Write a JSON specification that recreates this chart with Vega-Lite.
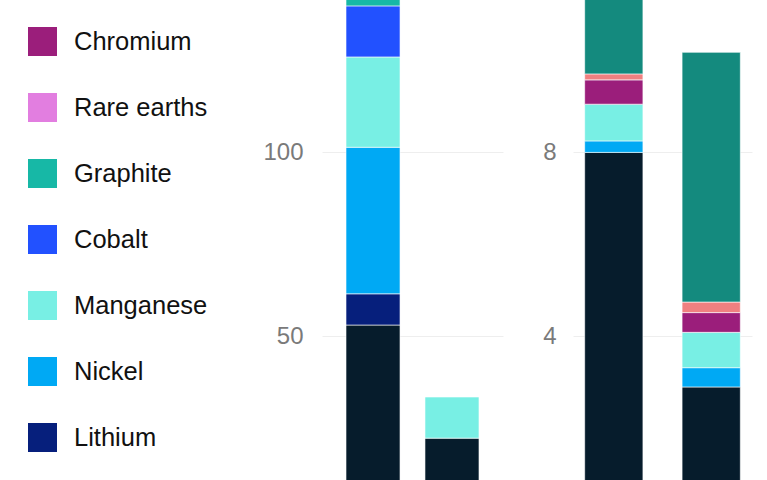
{
  "$schema": "https://vega.github.io/schema/vega-lite/v6.json",
  "background": "white",
  "padding": {"left": 1, "top": 0, "right": 14, "bottom": 0},
  "autosize": {"type": "pad"},
  "config": {
    "view": {"stroke": null},
    "font": "Liberation Sans",
    "concat": {"spacing": 39},
    "axis": {
      "domain": false,
      "ticks": false,
      "tickSize": 0,
      "grid": true,
      "gridColor": "#eeeeee",
      "gridWidth": 1,
      "labelFont": "Liberation Sans",
      "labelFontSize": 24,
      "labelColor": "#7a7a7a",
      "title": null
    },
    "legend": {
      "orient": "left",
      "title": null,
      "symbolType": "square",
      "symbolSize": 841,
      "symbolStrokeWidth": 0,
      "symbolOpacity": 1,
      "labelFont": "Liberation Sans",
      "labelFontSize": 25.5,
      "labelColor": "#111111",
      "labelOffset": 17,
      "rowPadding": 37,
      "padding": 27,
      "offset": 27,
      "labelLimit": 300
    }
  },
  "data": {
    "values": [
      {"group": "Cars", "item": "Electric car", "mineral": "Copper", "value": 53.0},
      {"group": "Cars", "item": "Electric car", "mineral": "Lithium", "value": 8.5},
      {"group": "Cars", "item": "Electric car", "mineral": "Nickel", "value": 39.9},
      {"group": "Cars", "item": "Electric car", "mineral": "Manganese", "value": 24.6},
      {"group": "Cars", "item": "Electric car", "mineral": "Cobalt", "value": 13.9},
      {"group": "Cars", "item": "Electric car", "mineral": "Graphite", "value": 66.3},
      {"group": "Cars", "item": "Electric car", "mineral": "Rare earths", "value": 0.5},
      {"group": "Cars", "item": "Conventional car", "mineral": "Copper", "value": 22.2},
      {"group": "Cars", "item": "Conventional car", "mineral": "Manganese", "value": 11.2},
      {"group": "Wind", "item": "Offshore wind", "mineral": "Copper", "value": 8.0},
      {"group": "Wind", "item": "Offshore wind", "mineral": "Nickel", "value": 0.25},
      {"group": "Wind", "item": "Offshore wind", "mineral": "Manganese", "value": 0.8},
      {"group": "Wind", "item": "Offshore wind", "mineral": "Chromium", "value": 0.53},
      {"group": "Wind", "item": "Offshore wind", "mineral": "Molybdenum", "value": 0.13},
      {"group": "Wind", "item": "Offshore wind", "mineral": "Zinc", "value": 5.5},
      {"group": "Wind", "item": "Onshore wind", "mineral": "Copper", "value": 2.89},
      {"group": "Wind", "item": "Onshore wind", "mineral": "Nickel", "value": 0.42},
      {"group": "Wind", "item": "Onshore wind", "mineral": "Manganese", "value": 0.77},
      {"group": "Wind", "item": "Onshore wind", "mineral": "Chromium", "value": 0.43},
      {"group": "Wind", "item": "Onshore wind", "mineral": "Molybdenum", "value": 0.23},
      {"group": "Wind", "item": "Onshore wind", "mineral": "Zinc", "value": 5.44}
    ]
  },
  "transform": [
    {"calculate": "indexof(['Copper','Lithium','Nickel','Manganese','Cobalt','Graphite','Rare earths','Chromium','Molybdenum','Zinc'], datum.mineral)", "as": "stackOrder"}
  ],
  "hconcat": [
    {
      "width": 181,
      "height": 480,
      "transform": [{"filter": "datum.group === 'Cars'"}],
      "mark": {"type": "bar", "clip": true, "stroke": "white", "strokeWidth": 0.6},
      "encoding": {
        "x": {
          "field": "item",
          "type": "nominal",
          "sort": ["Electric car", "Conventional car"],
          "axis": null,
          "scale": {"paddingInner": 0.316, "paddingOuter": 0.304}
        },
        "y": {
          "field": "value",
          "type": "quantitative",
          "stack": "zero",
          "scale": {"domain": [10.8, 141.5], "nice": false, "zero": false},
          "axis": {"values": [50, 100], "labelPadding": 19}
        },
        "order": {"field": "stackOrder", "type": "quantitative", "sort": "ascending"},
        "color": {
          "field": "mineral",
          "type": "nominal",
          "scale": {
            "domain": ["Copper", "Lithium", "Nickel", "Manganese", "Cobalt", "Graphite", "Rare earths", "Chromium", "Molybdenum", "Zinc"],
            "range": ["#061c2c", "#061f7c", "#00a9f4", "#78efe4", "#2251ff", "#17b8a6", "#e27ee0", "#9b1e7b", "#f08080", "#148a7e"]
          },
          "legend": {"values": ["Chromium", "Rare earths", "Graphite", "Cobalt", "Manganese", "Nickel", "Lithium"]}
        }
      }
    },
    {
      "width": 179,
      "height": 480,
      "transform": [{"filter": "datum.group === 'Wind'"}],
      "mark": {"type": "bar", "clip": true, "stroke": "white", "strokeWidth": 0.6},
      "encoding": {
        "x": {
          "field": "item",
          "type": "nominal",
          "sort": ["Offshore wind", "Onshore wind"],
          "axis": null,
          "scale": {"paddingInner": 0.402, "paddingOuter": 0.12}
        },
        "y": {
          "field": "value",
          "type": "quantitative",
          "stack": "zero",
          "scale": {"domain": [0.863, 11.32], "nice": false, "zero": false},
          "axis": {"values": [4, 8], "labelPadding": 17}
        },
        "order": {"field": "stackOrder", "type": "quantitative", "sort": "ascending"},
        "color": {
          "field": "mineral",
          "type": "nominal"
        }
      }
    }
  ],
  "resolve": {"scale": {"y": "independent", "x": "independent"}}
}
